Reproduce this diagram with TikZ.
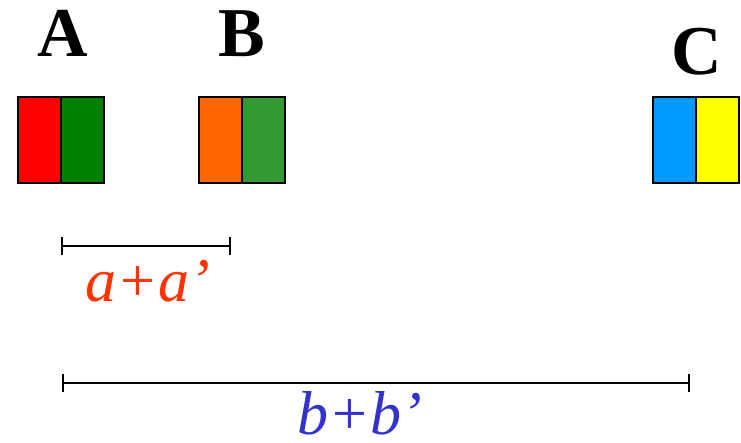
\documentclass[tikz,border=0pt]{standalone}
\usepackage{fontspec}
\setmainfont{Liberation Serif}
\usetikzlibrary{arrows.meta}
\definecolor{cRed}{HTML}{FF0000}
\definecolor{cGreen}{HTML}{008000}
\definecolor{cOrange}{HTML}{FF6600}
\definecolor{cGreenB}{HTML}{339933}
\definecolor{cBlue}{HTML}{0099FF}
\definecolor{cYellow}{HTML}{FFFF00}
\definecolor{cTxtA}{HTML}{FF3300}
\definecolor{cTxtB}{HTML}{3333CC}
\tikzset{
  half/.style={draw=black, line width=1.6pt, minimum width=43pt, minimum height=86pt, inner sep=0pt, anchor=north west},
  biglabel/.style={font=\fontsize{70}{72}\selectfont\bfseries, inner sep=0pt, anchor=base},
  dimlabel/.style={font=\fontsize{62}{64}\selectfont\itshape, inner sep=0pt, anchor=base, text depth=0pt},
  dimline/.style={line width=2pt, {Bar[width=18pt,line width=2pt]}-{Bar[width=18pt,line width=2pt]}}
}
\begin{document}
\begin{tikzpicture}[x=1pt,y=-1pt]
\useasboundingbox (0,0) rectangle (741,443);
% boxes
\node[half, fill=cRed] (a1) at (17,96) {};
\node[half, fill=cGreen] (a2) at (60,96) {};
\node[half, fill=cOrange] (b1) at (198,96) {};
\node[half, fill=cGreenB] (b2) at (241,96) {};
\node[half, fill=cBlue] (c1) at (652,96) {};
\node[half, fill=cYellow] (c2) at (695,96) {};
% letters
\node[biglabel] (lA) at (63,57) {A};
\node[biglabel] (lB) at (242,57) {B};
\node[biglabel] (lC) at (697,75) {C};
% dimension lines
\coordinate (d1s) at (61,246.5);
\coordinate (d1e) at (231,246.5);
\draw[dimline] (d1s) -- (d1e);
\coordinate (d2s) at (62,383);
\coordinate (d2e) at (690,383);
\draw[dimline] (d2s) -- (d2e);
\node[dimlabel, text=cTxtA] (ta) at (148,302) {a+a’};
\node[dimlabel, text=cTxtB] (tb) at (360,434) {b+b’};
\end{tikzpicture}
\end{document}
